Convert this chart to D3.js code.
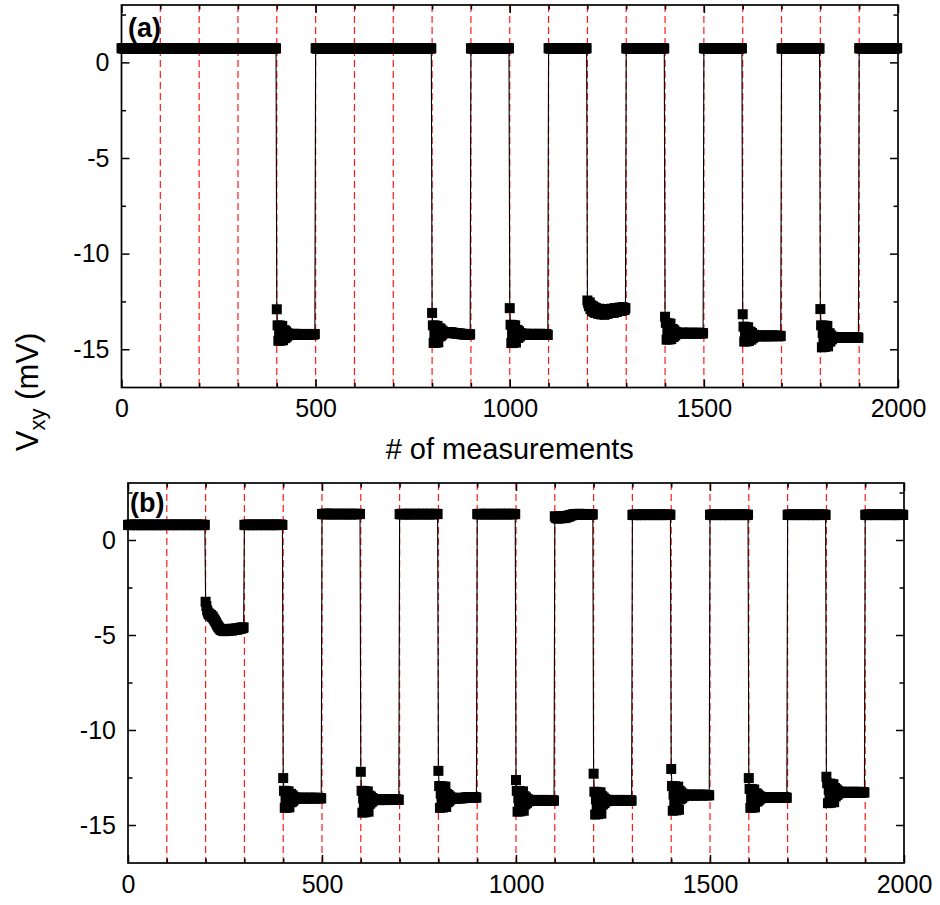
<!DOCTYPE html>
<html>
<head>
<meta charset="utf-8">
<script src="https://cdn.jsdelivr.net/npm/d3@7"></script>
<style>
  body { margin: 0; background: #fff; }
  svg { display: block; }
  text { font-family: Arial, "Liberation Sans", sans-serif; }
</style>
</head>
<body>
<svg id="chart" width="940" height="905"></svg>
<script>
// Hall voltage Vxy over 2000 measurements; the state is switched every 100 measurements.
// Each row holds one 100-measurement block, one stored reading every 2nd measurement.
const readingStep = 2;
const blockSize = 100;

const xMajor = [0, 500, 1000, 1500, 2000];
const xMinor = [100, 200, 300, 400, 600, 700, 800, 900, 1100, 1200, 1300, 1400, 1600, 1700, 1800, 1900];
const yMajor = [0, -5, -10, -15];
const yMinor = [2.5, -2.5, -7.5, -12.5];
const switchAt = [100, 200, 300, 400, 500, 600, 700, 800, 900, 1000, 1100, 1200, 1300, 1400, 1500, 1600, 1700, 1800, 1900];

// panel (a)
const vxyA = [
  [0.74,0.73,0.75,0.72,0.74,0.73,0.74,0.72,0.75,0.73,0.74,0.73,0.72,0.74,0.75,0.73,0.74,0.72,0.73,0.75,0.74,0.73,0.72,0.74,0.73,0.75,0.74,0.72,0.73,0.74,0.73,0.75,0.72,0.74,0.73,0.74,0.72,0.75,0.73,0.74,0.72,0.73,0.75,0.74,0.73,0.72,0.74,0.73,0.75,0.73],
  [0.73,0.74,0.72,0.75,0.73,0.74,0.72,0.73,0.74,0.75,0.73,0.72,0.74,0.73,0.75,0.74,0.72,0.73,0.74,0.73,0.75,0.72,0.74,0.73,0.74,0.72,0.73,0.75,0.74,0.73,0.72,0.74,0.73,0.75,0.72,0.74,0.73,0.74,0.75,0.72,0.73,0.74,0.73,0.75,0.72,0.74,0.73,0.72,0.74,0.73],
  [0.74,0.72,0.73,0.75,0.74,0.73,0.72,0.74,0.73,0.75,0.72,0.74,0.73,0.74,0.72,0.75,0.73,0.74,0.72,0.73,0.74,0.75,0.73,0.72,0.74,0.73,0.74,0.75,0.72,0.73,0.74,0.73,0.72,0.75,0.74,0.73,0.74,0.72,0.73,0.75,0.73,0.74,0.72,0.73,0.74,0.75,0.73,0.74,0.72,0.74],
  [0.73,0.75,0.74,0.72,0.73,0.74,0.75,0.73,0.72,0.74,0.73,0.75,0.74,0.72,0.73,0.74,0.73,0.75,0.72,0.74,0.73,0.72,0.74,0.75,0.73,0.74,0.72,0.73,0.75,0.74,0.73,0.72,0.74,0.73,0.75,0.74,0.72,0.73,0.74,0.73,0.75,0.72,0.74,0.73,0.74,0.72,0.75,0.73,0.74,0.73],
  [-12.91,-13.75,-14.56,-14.15,-13.76,-14.55,-14.14,-13.78,-14.53,-14.16,-14.0,-14.42,-14.07,-14.34,-14.16,-14.27,-14.2,-14.22,
   -14.22,-14.25,-14.2,-14.24,-14.22,-14.19,-14.23,-14.25,-14.21,-14.22,-14.24,-14.2,-14.23,-14.22,-14.25,-14.21,-14.23,-14.2,-14.22,-14.24,-14.21,-14.23,-14.25,-14.22,-14.2,-14.23,-14.22,-14.24,-14.21,-14.23,-14.22,-14.2],
  [0.74,0.73,0.72,0.74,0.75,0.73,0.74,0.72,0.73,0.74,0.75,0.73,0.72,0.74,0.73,0.74,0.75,0.72,0.73,0.74,0.73,0.72,0.75,0.74,0.73,0.74,0.73,0.72,0.74,0.75,0.73,0.74,0.72,0.73,0.75,0.74,0.73,0.72,0.74,0.73,0.75,0.73,0.74,0.72,0.73,0.74,0.75,0.72,0.74,0.73],
  [0.73,0.74,0.75,0.73,0.72,0.74,0.73,0.75,0.74,0.72,0.73,0.74,0.73,0.72,0.75,0.73,0.74,0.73,0.75,0.72,0.74,0.73,0.74,0.72,0.73,0.74,0.75,0.73,0.72,0.74,0.73,0.74,0.75,0.72,0.73,0.74,0.72,0.75,0.73,0.74,0.73,0.72,0.74,0.75,0.73,0.74,0.72,0.73,0.74,0.73],
  [0.74,0.72,0.73,0.74,0.73,0.75,0.72,0.74,0.73,0.74,0.72,0.75,0.73,0.74,0.72,0.73,0.75,0.74,0.73,0.72,0.74,0.73,0.75,0.73,0.74,0.72,0.74,0.73,0.75,0.72,0.73,0.74,0.73,0.75,0.74,0.72,0.73,0.74,0.72,0.75,0.74,0.73,0.72,0.74,0.73,0.75,0.73,0.72,0.74,0.73],
  [-13.1,-13.75,-14.67,-14.2,-13.76,-14.66,-14.22,-13.78,-14.64,-14.2,-13.9,-14.32,-13.97,-14.24,-14.06,-14.17,-14.1,-14.12,
   -14.12,-14.14,-14.1,-14.13,-14.12,-14.15,-14.11,-14.14,-14.13,-14.16,-14.14,-14.17,-14.15,-14.18,-14.16,-14.19,-14.17,-14.2,-14.18,-14.21,-14.19,-14.22,-14.2,-14.23,-14.21,-14.22,-14.2,-14.23,-14.21,-14.22,-14.24,-14.22],
  [0.73,0.74,0.72,0.73,0.75,0.74,0.73,0.72,0.74,0.73,0.75,0.73,0.74,0.72,0.73,0.74,0.72,0.75,0.73,0.74,0.73,0.75,0.72,0.74,0.73,0.72,0.74,0.73,0.75,0.74,0.73,0.72,0.74,0.73,0.74,0.75,0.72,0.73,0.74,0.73,0.72,0.75,0.74,0.73,0.74,0.72,0.73,0.75,0.73,0.74],
  [-12.85,-13.72,-14.68,-14.2,-13.73,-14.67,-14.18,-13.75,-14.65,-14.2,-13.99,-14.41,-14.06,-14.33,-14.15,-14.26,-14.19,-14.21,
   -14.2,-14.23,-14.21,-14.19,-14.22,-14.24,-14.2,-14.22,-14.21,-14.23,-14.19,-14.22,-14.24,-14.21,-14.2,-14.23,-14.22,-14.2,-14.24,-14.21,-14.22,-14.19,-14.23,-14.22,-14.2,-14.24,-14.21,-14.23,-14.22,-14.2,-14.24,-14.25],
  [0.74,0.73,0.75,0.72,0.73,0.74,0.73,0.75,0.72,0.74,0.73,0.74,0.75,0.73,0.72,0.74,0.73,0.72,0.74,0.75,0.73,0.74,0.72,0.73,0.74,0.73,0.75,0.74,0.72,0.73,0.74,0.72,0.73,0.75,0.74,0.73,0.72,0.74,0.73,0.75,0.74,0.73,0.72,0.74,0.75,0.73,0.74,0.72,0.73,0.74],
  [-12.45,-12.6,-12.75,-12.55,-12.9,-12.7,-13.0,-12.75,-13.05,-12.8,-13.1,-12.85,-13.05,-12.9,-13.15,-12.88,-13.12,-12.92,-13.18,-12.9,
   -13.15,-12.95,-13.2,-12.92,-13.12,-12.95,-13.15,-12.9,-13.1,-12.92,-13.08,-12.88,-13.05,-12.9,-13.1,-12.85,-13.02,-12.88,-13.05,-12.85,
   -13.0,-12.82,-12.98,-12.85,-13.0,-12.8,-12.95,-12.82,-12.95,-12.85],
  [0.73,0.74,0.72,0.75,0.73,0.72,0.74,0.73,0.75,0.74,0.72,0.73,0.74,0.73,0.75,0.72,0.74,0.73,0.74,0.72,0.73,0.75,0.74,0.73,0.72,0.74,0.73,0.75,0.72,0.74,0.73,0.74,0.72,0.73,0.75,0.74,0.73,0.72,0.74,0.73,0.74,0.75,0.73,0.72,0.74,0.73,0.75,0.74,0.72,0.73],
  [-13.3,-13.62,-14.5,-14.05,-13.64,-14.49,-14.06,-13.66,-14.47,-14.08,-13.94,-14.36,-14.01,-14.28,-14.1,-14.21,-14.14,-14.16,
   -14.15,-14.18,-14.14,-14.17,-14.16,-14.13,-14.17,-14.15,-14.18,-14.14,-14.16,-14.15,-14.18,-14.13,-14.16,-14.17,-14.15,-14.14,-14.18,-14.16,-14.15,-14.17,-14.14,-14.16,-14.18,-14.15,-14.13,-14.17,-14.16,-14.15,-14.18,-14.16],
  [0.74,0.73,0.74,0.72,0.75,0.73,0.74,0.73,0.72,0.74,0.75,0.73,0.74,0.72,0.73,0.74,0.73,0.75,0.72,0.74,0.73,0.74,0.72,0.75,0.73,0.74,0.72,0.73,0.74,0.75,0.73,0.72,0.74,0.73,0.74,0.72,0.75,0.73,0.74,0.73,0.72,0.74,0.75,0.73,0.72,0.74,0.73,0.74,0.75,0.73],
  [-13.17,-13.82,-14.6,-14.2,-13.83,-14.59,-14.21,-13.85,-14.57,-14.22,-14.08,-14.5,-14.15,-14.42,-14.24,-14.35,-14.28,-14.3,
   -14.3,-14.32,-14.28,-14.31,-14.3,-14.33,-14.29,-14.31,-14.3,-14.28,-14.32,-14.3,-14.31,-14.29,-14.33,-14.3,-14.28,-14.31,-14.3,-14.32,-14.29,-14.3,-14.31,-14.28,-14.32,-14.3,-14.31,-14.29,-14.3,-14.32,-14.3,-14.31],
  [0.73,0.72,0.74,0.73,0.75,0.74,0.72,0.73,0.74,0.73,0.72,0.75,0.73,0.74,0.73,0.72,0.74,0.75,0.73,0.74,0.72,0.73,0.74,0.73,0.75,0.72,0.74,0.73,0.74,0.72,0.75,0.73,0.74,0.73,0.72,0.74,0.73,0.75,0.74,0.72,0.73,0.74,0.73,0.72,0.75,0.74,0.73,0.74,0.72,0.73],
  [-12.9,-13.75,-14.9,-14.15,-14.52,-13.76,-14.88,-14.17,-14.5,-13.78,-14.85,-14.3,-14.16,-14.6,-14.28,-14.48,-14.35,-14.4,
   -14.38,-14.4,-14.36,-14.39,-14.38,-14.41,-14.37,-14.39,-14.4,-14.36,-14.38,-14.4,-14.37,-14.39,-14.41,-14.38,-14.36,-14.4,-14.38,-14.39,-14.37,-14.4,-14.38,-14.36,-14.39,-14.4,-14.38,-14.37,-14.4,-14.39,-14.38,-14.4],
  [0.74,0.73,0.75,0.73,0.72,0.74,0.73,0.74,0.75,0.72,0.73,0.74,0.73,0.75,0.74,0.72,0.73,0.74,0.72,0.73,0.75,0.74,0.73,0.72,0.74,0.73,0.74,0.72,0.75,0.73,0.74,0.73,0.72,0.74,0.75,0.73,0.74,0.72,0.73,0.74,0.73,0.75,0.72,0.74,0.73,0.74,0.72,0.73,0.75,0.74]
];

// panel (b)
const vxyB = [
  [0.80,0.79,0.78,0.80,0.81,0.79,0.80,0.78,0.79,0.81,0.80,0.79,0.78,0.80,0.79,0.81,0.80,0.78,0.79,0.80,0.81,0.79,0.78,0.80,0.79,0.80,0.81,0.79,0.78,0.80,0.79,0.80,0.78,0.81,0.79,0.80,0.79,0.78,0.80,0.81,0.79,0.80,0.78,0.79,0.81,0.80,0.79,0.78,0.80,0.79],
  [0.79,0.80,0.81,0.78,0.79,0.80,0.79,0.81,0.78,0.80,0.79,0.80,0.81,0.79,0.78,0.80,0.79,0.81,0.80,0.78,0.79,0.80,0.79,0.81,0.80,0.79,0.78,0.80,0.81,0.79,0.80,0.78,0.79,0.80,0.81,0.79,0.80,0.78,0.79,0.81,0.80,0.79,0.78,0.80,0.79,0.81,0.80,0.79,0.78,0.80],
  [-3.25,-3.48,-3.7,-3.82,-3.92,-3.88,-3.98,-3.95,-4.05,-4.02,-4.12,-4.18,-4.25,-4.32,-4.4,-4.48,-4.55,-4.6,-4.66,-4.7,
   -4.74,-4.7,-4.78,-4.72,-4.8,-4.7,-4.78,-4.68,-4.76,-4.7,-4.78,-4.68,-4.75,-4.7,-4.77,-4.67,-4.74,-4.68,-4.72,-4.66,
   -4.73,-4.65,-4.7,-4.64,-4.68,-4.62,-4.66,-4.6,-4.64,-4.6],
  [0.80,0.78,0.79,0.81,0.80,0.79,0.78,0.80,0.81,0.79,0.80,0.78,0.79,0.80,0.81,0.79,0.78,0.80,0.79,0.81,0.80,0.79,0.78,0.80,0.79,0.81,0.80,0.78,0.79,0.80,0.79,0.81,0.80,0.78,0.79,0.80,0.81,0.79,0.78,0.80,0.79,0.80,0.81,0.78,0.79,0.80,0.79,0.81,0.80,0.79],
  [-12.53,-13.2,-14.1,-13.65,-13.21,-14.09,-13.64,-13.23,-14.07,-13.65,-13.36,-13.8,-13.43,-13.73,-13.52,-13.64,-13.56,-13.58,
   -13.58,-13.6,-13.56,-13.59,-13.58,-13.61,-13.57,-13.59,-13.6,-13.56,-13.58,-13.6,-13.57,-13.59,-13.61,-13.58,-13.56,-13.6,-13.58,-13.59,-13.57,-13.6,-13.58,-13.56,-13.59,-13.6,-13.58,-13.57,-13.6,-13.59,-13.58,-13.6],
  [1.37,1.36,1.38,1.35,1.37,1.39,1.36,1.37,1.35,1.38,1.37,1.36,1.38,1.37,1.35,1.36,1.38,1.37,1.36,1.35,1.37,1.38,1.36,1.37,1.36,1.38,1.37,1.35,1.36,1.38,1.37,1.36,1.35,1.37,1.38,1.36,1.37,1.35,1.38,1.36,1.37,1.36,1.38,1.35,1.37,1.36,1.38,1.37,1.36,1.37],
  [-12.2,-13.2,-14.35,-13.6,-13.95,-13.21,-14.33,-13.62,-13.97,-13.23,-14.3,-13.45,-13.88,-13.5,-13.8,-13.58,-13.72,-13.64,
   -13.66,-13.68,-13.64,-13.67,-13.66,-13.69,-13.65,-13.67,-13.68,-13.64,-13.66,-13.68,-13.65,-13.67,-13.69,-13.66,-13.64,-13.68,-13.66,-13.67,-13.65,-13.68,-13.66,-13.64,-13.67,-13.68,-13.66,-13.65,-13.68,-13.67,-13.66,-13.68],
  [1.36,1.37,1.35,1.38,1.36,1.37,1.35,1.36,1.38,1.37,1.36,1.35,1.37,1.38,1.36,1.37,1.35,1.36,1.37,1.38,1.36,1.35,1.37,1.36,1.37,1.38,1.36,1.37,1.35,1.36,1.38,1.37,1.36,1.35,1.37,1.36,1.38,1.37,1.35,1.36,1.37,1.38,1.36,1.37,1.35,1.36,1.37,1.38,1.36,1.37],
  [-12.15,-12.95,-14.1,-13.35,-13.7,-12.96,-14.08,-13.37,-13.72,-12.98,-14.05,-13.36,-13.8,-13.42,-13.74,-13.5,-13.65,-13.56,
   -13.58,-13.6,-13.57,-13.59,-13.6,-13.58,-13.61,-13.59,-13.58,-13.6,-13.57,-13.59,-13.58,-13.6,-13.57,-13.58,-13.56,-13.58,-13.55,-13.57,-13.56,-13.54,-13.57,-13.55,-13.56,-13.54,-13.57,-13.55,-13.56,-13.54,-13.55,-13.56],
  [1.37,1.35,1.36,1.38,1.37,1.36,1.35,1.37,1.36,1.38,1.37,1.35,1.36,1.37,1.38,1.36,1.37,1.35,1.36,1.37,1.36,1.38,1.35,1.37,1.36,1.37,1.38,1.36,1.35,1.37,1.36,1.38,1.37,1.36,1.35,1.37,1.38,1.36,1.37,1.35,1.36,1.38,1.37,1.36,1.37,1.35,1.38,1.36,1.37,1.36],
  [-12.63,-13.2,-14.3,-13.6,-13.95,-13.21,-14.28,-13.62,-13.97,-13.23,-14.25,-13.48,-13.92,-13.55,-13.85,-13.63,-13.76,-13.68,
   -13.7,-13.72,-13.68,-13.71,-13.7,-13.73,-13.69,-13.71,-13.72,-13.68,-13.7,-13.72,-13.69,-13.71,-13.73,-13.7,-13.68,-13.72,-13.7,-13.71,-13.69,-13.72,-13.7,-13.68,-13.71,-13.72,-13.7,-13.69,-13.72,-13.71,-13.7,-13.72],
  [1.25,1.18,1.15,1.22,1.12,1.2,1.16,1.25,1.14,1.22,1.18,1.26,1.15,1.2,1.17,1.24,1.2,1.28,1.22,1.3,
   1.26,1.32,1.3,1.35,1.32,1.36,1.33,1.37,1.34,1.36,1.35,1.38,1.34,1.36,1.35,1.37,1.33,1.36,1.34,1.37,
   1.35,1.33,1.36,1.34,1.37,1.35,1.33,1.36,1.34,1.35],
  [-12.3,-13.25,-14.45,-13.65,-14.05,-13.26,-14.43,-13.67,-14.07,-13.28,-14.4,-13.48,-13.92,-13.55,-13.85,-13.63,-13.76,-13.68,
   -13.7,-13.72,-13.68,-13.71,-13.7,-13.73,-13.69,-13.71,-13.72,-13.68,-13.7,-13.72,-13.69,-13.71,-13.73,-13.7,-13.68,-13.72,-13.7,-13.71,-13.69,-13.72,-13.7,-13.68,-13.71,-13.72,-13.7,-13.69,-13.72,-13.71,-13.7,-13.72],
  [1.32,1.33,1.31,1.34,1.32,1.33,1.31,1.32,1.34,1.33,1.32,1.31,1.33,1.34,1.32,1.33,1.31,1.32,1.33,1.34,1.32,1.31,1.33,1.32,1.33,1.34,1.32,1.31,1.33,1.32,1.34,1.33,1.31,1.32,1.33,1.34,1.32,1.33,1.31,1.32,1.34,1.33,1.32,1.31,1.33,1.32,1.34,1.33,1.32,1.33],
  [-12.05,-12.95,-14.25,-13.4,-13.8,-12.96,-14.23,-13.42,-13.82,-12.98,-14.2,-13.2,-13.65,-13.28,-13.58,-13.36,-13.5,-13.4,
   -13.42,-13.44,-13.4,-13.43,-13.42,-13.45,-13.41,-13.43,-13.44,-13.4,-13.42,-13.44,-13.41,-13.43,-13.45,-13.42,-13.4,-13.44,-13.42,-13.43,-13.41,-13.44,-13.42,-13.4,-13.43,-13.44,-13.42,-13.41,-13.44,-13.43,-13.42,-13.44],
  [1.33,1.32,1.34,1.31,1.33,1.32,1.34,1.33,1.31,1.32,1.33,1.34,1.32,1.33,1.31,1.32,1.34,1.33,1.32,1.31,1.33,1.32,1.34,1.33,1.32,1.31,1.33,1.34,1.32,1.33,1.32,1.31,1.34,1.33,1.32,1.33,1.31,1.32,1.34,1.33,1.32,1.34,1.31,1.33,1.32,1.33,1.34,1.32,1.31,1.33],
  [-12.53,-13.1,-14.1,-13.6,-13.11,-14.09,-13.6,-13.13,-14.07,-13.6,-13.33,-13.77,-13.4,-13.7,-13.48,-13.62,-13.52,-13.55,
   -13.55,-13.57,-13.53,-13.56,-13.55,-13.58,-13.54,-13.56,-13.57,-13.53,-13.55,-13.57,-13.54,-13.56,-13.58,-13.55,-13.53,-13.57,-13.55,-13.56,-13.54,-13.57,-13.55,-13.53,-13.56,-13.57,-13.55,-13.54,-13.57,-13.56,-13.55,-13.57],
  [1.32,1.34,1.33,1.32,1.31,1.33,1.34,1.32,1.33,1.31,1.32,1.34,1.33,1.32,1.33,1.31,1.32,1.33,1.34,1.32,1.33,1.31,1.32,1.33,1.34,1.32,1.33,1.32,1.31,1.34,1.33,1.32,1.33,1.31,1.32,1.34,1.33,1.32,1.31,1.33,1.34,1.32,1.33,1.32,1.31,1.33,1.34,1.32,1.33,1.32],
  [-12.46,-12.8,-13.85,-13.15,-13.5,-12.82,-13.83,-13.17,-13.52,-12.85,-13.8,-13.05,-13.5,-13.12,-13.42,-13.2,-13.34,-13.25,
   -13.27,-13.29,-13.25,-13.28,-13.27,-13.3,-13.26,-13.28,-13.29,-13.25,-13.27,-13.29,-13.26,-13.28,-13.3,-13.27,-13.25,-13.29,-13.27,-13.28,-13.26,-13.29,-13.27,-13.25,-13.28,-13.29,-13.27,-13.26,-13.29,-13.28,-13.27,-13.29],
  [1.33,1.32,1.31,1.33,1.34,1.32,1.33,1.31,1.32,1.34,1.33,1.32,1.33,1.31,1.32,1.33,1.34,1.32,1.33,1.32,1.31,1.33,1.32,1.34,1.33,1.32,1.31,1.33,1.32,1.34,1.33,1.32,1.33,1.31,1.34,1.32,1.33,1.32,1.31,1.33,1.34,1.32,1.33,1.31,1.32,1.33,1.34,1.32,1.33,1.32]
];

const svg = d3.select('#chart');

const panels = [
  { label: '(a)', data: vxyA, left: 121.5, right: 898, top: 5, bottom: 387.5, labelX: 128, labelY: 37 },
  { label: '(b)', data: vxyB, left: 128, right: 904, top: 483, bottom: 863, labelX: 130, labelY: 512 }
];

function styleAxis(sel, fontSize) {
  sel.select('.domain').remove();
  sel.attr('font-family', 'Arial, "Liberation Sans", sans-serif').attr('font-size', fontSize);
  sel.selectAll('.tick line').attr('stroke', '#000').attr('stroke-width', 1.5);
  sel.selectAll('.tick text').attr('fill', '#000');
}

panels.forEach(p => {
  const x = d3.scaleLinear().domain([0, 2000]).range([p.left, p.right]);
  const y = d3.scaleLinear().domain([-17, 3]).range([p.bottom, p.top]);
  const g = svg.append('g');

  const pts = p.data.flatMap((row, b) => row.map((v, i) => ({ n: b * blockSize + i * readingStep, v })));

  // red dashed markers at every switching event
  g.selectAll('line.switch')
    .data(switchAt)
    .join('line')
    .attr('class', 'switch')
    .attr('x1', d => x(d)).attr('x2', d => x(d))
    .attr('y1', p.top).attr('y2', p.bottom)
    .attr('stroke', '#ff1a1a')
    .attr('stroke-width', 1.2)
    .attr('stroke-dasharray', '7 4');

  // thin connecting trace
  g.append('path')
    .datum(pts)
    .attr('d', d3.line().x(d => x(d.n)).y(d => y(d.v)))
    .attr('fill', 'none')
    .attr('stroke', '#000')
    .attr('stroke-width', 1.1);

  // square symbols
  g.selectAll('rect.pt')
    .data(pts)
    .join('rect')
    .attr('class', 'pt')
    .attr('x', d => x(d.n) - 5)
    .attr('y', d => y(d.v) - 5)
    .attr('width', 10)
    .attr('height', 10)
    .attr('fill', '#000');

  // frame
  g.append('rect')
    .attr('x', p.left).attr('y', p.top)
    .attr('width', p.right - p.left).attr('height', p.bottom - p.top)
    .attr('fill', 'none').attr('stroke', '#000').attr('stroke-width', 1.7);

  // bottom axis with labels
  g.append('g').attr('transform', `translate(0,${p.bottom})`)
    .call(d3.axisBottom(x).tickValues(xMajor).tickSizeInner(-8).tickSizeOuter(0).tickPadding(12).tickFormat(d => String(d)))
    .call(s => styleAxis(s, 25));
  g.append('g').attr('transform', `translate(0,${p.bottom})`)
    .call(d3.axisBottom(x).tickValues(xMinor).tickSizeInner(-4.5).tickSizeOuter(0).tickFormat(''))
    .call(s => styleAxis(s, 25));
  // top axis, ticks only
  g.append('g').attr('transform', `translate(0,${p.top})`)
    .call(d3.axisTop(x).tickValues(xMajor).tickSizeInner(-8).tickSizeOuter(0).tickFormat(''))
    .call(s => styleAxis(s, 25));
  g.append('g').attr('transform', `translate(0,${p.top})`)
    .call(d3.axisTop(x).tickValues(xMinor).tickSizeInner(-4.5).tickSizeOuter(0).tickFormat(''))
    .call(s => styleAxis(s, 25));
  // left axis with labels
  g.append('g').attr('transform', `translate(${p.left},0)`)
    .call(d3.axisLeft(y).tickValues(yMajor).tickSizeInner(-8).tickSizeOuter(0).tickPadding(12).tickFormat(d => String(d)))
    .call(s => styleAxis(s, 25));
  g.append('g').attr('transform', `translate(${p.left},0)`)
    .call(d3.axisLeft(y).tickValues(yMinor).tickSizeInner(-4.5).tickSizeOuter(0).tickFormat(''))
    .call(s => styleAxis(s, 25));
  // right axis, ticks only
  g.append('g').attr('transform', `translate(${p.right},0)`)
    .call(d3.axisRight(y).tickValues(yMajor).tickSizeInner(-8).tickSizeOuter(0).tickFormat(''))
    .call(s => styleAxis(s, 25));
  g.append('g').attr('transform', `translate(${p.right},0)`)
    .call(d3.axisRight(y).tickValues(yMinor).tickSizeInner(-4.5).tickSizeOuter(0).tickFormat(''))
    .call(s => styleAxis(s, 25));

  // panel tag
  g.append('text')
    .attr('x', p.labelX).attr('y', p.labelY)
    .attr('font-size', 27).attr('font-weight', 'bold')
    .attr('fill', '#000')
    .text(p.label);
});

// x-axis title under panel (a)
svg.append('text')
  .attr('x', (panels[0].left + panels[0].right) / 2)
  .attr('y', 459)
  .attr('text-anchor', 'middle')
  .attr('font-size', 29)
  .attr('fill', '#000')
  .text('# of measurements');

// shared y-axis title
const yTitle = svg.append('text')
  .attr('transform', 'translate(38,392) rotate(-90)')
  .attr('text-anchor', 'middle')
  .attr('font-size', 31)
  .attr('fill', '#000');
yTitle.append('tspan').text('V');
yTitle.append('tspan').attr('font-size', 22).attr('dy', 7).text('xy');
yTitle.append('tspan').attr('dy', -7).text(' (mV)');
</script>
</body>
</html>
